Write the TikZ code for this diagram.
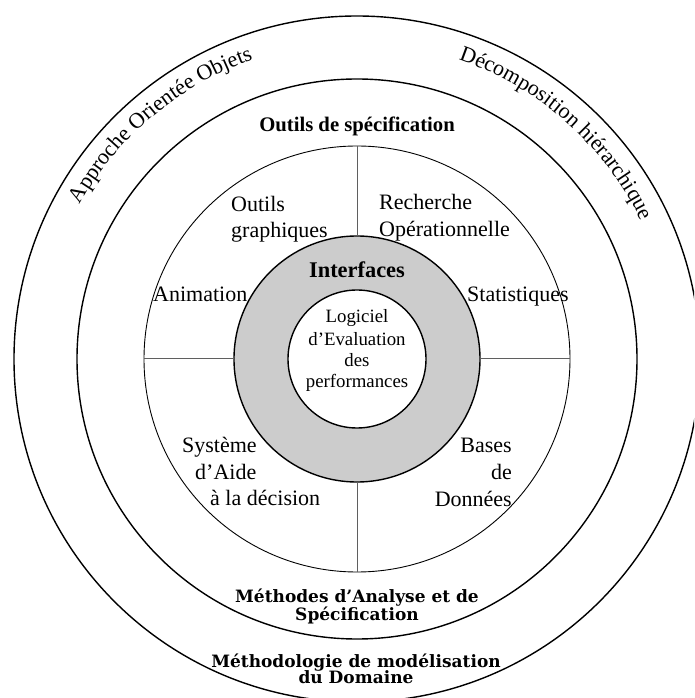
\documentclass[tikz,border=0pt]{standalone}
\usepackage{fontspec}
\setmainfont{Liberation Serif}
\newfontfamily\widefont{DejaVu Serif}
\usetikzlibrary{decorations.text}
\definecolor{ringgray}{RGB}{204,204,204}
\definecolor{divgray}{RGB}{95,95,95}
\newcommand{\mainf}{\fontsize{22}{26}\selectfont}
\newcommand{\boldf}{\fontsize{20.7}{24}\selectfont\bfseries}
\newcommand{\intf}{\fontsize{22.4}{26}\selectfont\bfseries}
\newcommand{\coref}{\fontsize{18.8}{22}\selectfont}
\newcommand{\curvef}{\fontsize{22}{26}\selectfont}
\newcommand{\widef}{\widefont\fontsize{17}{18}\selectfont\bfseries}
\begin{document}
\begin{tikzpicture}[x=1pt,y=1pt,
  ringc/.style={circle, draw=black, inner sep=0pt, outer sep=0pt},
  lbl/.style={inner sep=0pt, font=\mainf},
  corelbl/.style={inner sep=0pt, font=\coref, anchor=base},
  widelbl/.style={inner sep=0pt, font=\widef, anchor=base},
  divider/.style={draw=divgray, line width=1pt}]
\useasboundingbox (-357,-339) rectangle (337,359);
\clip (-357,-339) rectangle (337,359);
% circles
\node[ringc, line width=1.4pt, minimum size=686] (c1) at (0,0) {};
\node[ringc, line width=1.4pt, minimum size=560] (c2) at (0,0) {};
\node[ringc, line width=0.9pt, minimum size=426] (c3) at (0,0) {};
\node[ringc, line width=1.4pt, fill=ringgray, minimum size=246] (ring) at (0,0) {};
\node[ringc, line width=1.4pt, fill=white, minimum size=138] (core) at (0,0) {};
% dividers
\draw[divider] (ring.north) -- (c3.north);
\draw[divider] (ring.south) -- (c3.south);
\draw[divider] (ring.west) -- (c3.west);
\draw[divider] (ring.east) -- (c3.east);
% curved texts
\path[decorate, decoration={text along path, text align=center,
  text={|\curvef|Approche Orientée Objets}}]
  (175:317) arc[start angle=175, end angle=85, radius=317];
\path[decorate, decoration={text along path, text align=center,
  text={|\curvef|Décomposition hiérarchique}}]
  (93.6:316) arc[start angle=93.6, end angle=3.6, radius=316];
% ring 2 text
\node[lbl, font=\boldf, anchor=base] (spec) at (0,227) {Outils de spécification};
% sector texts
\node[lbl, anchor=base west] (og1) at (-126,147) {Outils};
\node[lbl, anchor=base west] (og2) at (-126,121) {graphiques};
\node[lbl, anchor=base west] (ro1) at (22,149) {Recherche};
\node[lbl, anchor=base west] (ro2) at (22,122) {Opérationnelle};
\node[lbl, anchor=base west] (anim) at (-204,57) {Animation};
\node[lbl, anchor=base west] (stat) at (110,57) {Statistiques};
\node[lbl, anchor=base west] (sa1) at (-175,-93) {Système};
\node[lbl, anchor=base west] (sa2) at (-162,-120) {d’Aide};
\node[lbl, anchor=base west] (sa3) at (-147,-146) {à la décision};
\node[lbl, anchor=base east] (bd1) at (155,-93) {Bases};
\node[lbl, anchor=base east] (bd2) at (155,-120) {de};
\node[lbl, anchor=base east] (bd3) at (155,-147) {Données};
% ring
\node[lbl, font=\intf, anchor=base] (intf) at (0,81) {Interfaces};
% core
\node[corelbl] (lg1) at (0,36) {Logiciel};
\node[corelbl] (lg2) at (0,13) {d’Evaluation};
\node[corelbl] (lg3) at (0,-8) {des};
\node[corelbl] (lg4) at (0,-29) {performances};
% bottom texts
\node[widelbl] (ma1) at (0,-243) {Méthodes d’Analyse et de};
\node[widelbl] (ma2) at (0,-261) {Spécification};
\node[widelbl] (md1) at (-1,-308) {Méthodologie de modélisation};
\node[widelbl] (md2) at (-1,-324) {du Domaine};
\end{tikzpicture}
\end{document}
